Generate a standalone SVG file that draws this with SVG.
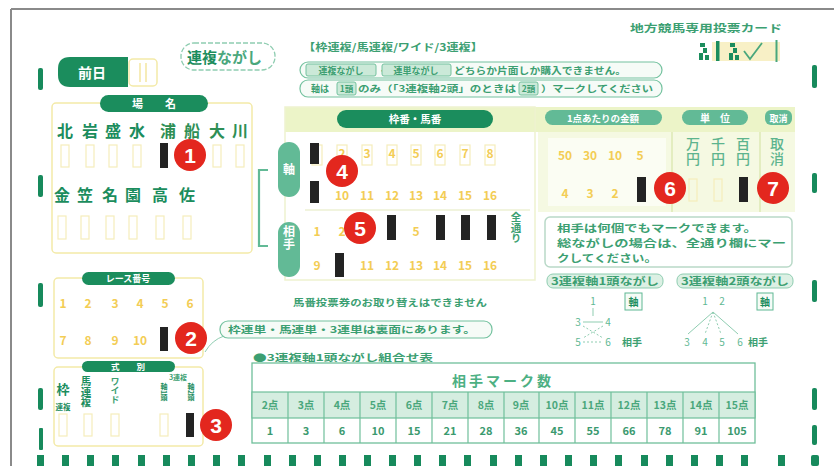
<svg xmlns="http://www.w3.org/2000/svg" width="834" height="466" viewBox="0 0 834 466">
<defs>
<style>
text{font-family:"Noto Sans CJK JP","Noto Sans",sans-serif;}
.vt{writing-mode:vertical-rl;text-anchor:start;}
.tm{fill:#178a5c;}
.mk{fill:#232323;}
.num{font-size:12px;font-weight:700;fill:#f3cd55;text-anchor:middle;}
.box{fill:none;stroke:#f5edbb;stroke-width:1.2;}
.rc{fill:#e3271e;}
.rn{font-family:"Liberation Sans",sans-serif;font-size:21px;font-weight:700;fill:#fff;text-anchor:middle;}
.dp{fill:#1b8d5d;}
.wt{fill:#fff;font-weight:700;text-anchor:middle;}
.tp{fill:#62ba96;}
.g1{fill:#1b8d5d;font-weight:700;}
.g2{fill:#3c9f72;font-weight:700;}
.g3{fill:#5db48e;}
.ol{fill:#f6fbf7;stroke:#74c29f;stroke-width:1.2;}
.ib{fill:#cbe9d8;stroke:#74c29f;stroke-width:1;}
.yb{fill:none;stroke:#f3eaa8;stroke-width:1.5;}
.th{font-size:10.5px;font-weight:700;fill:#4aa77c;text-anchor:middle;}
.tv{font-size:11px;font-weight:700;fill:#3b9a6f;text-anchor:middle;}
.dg{font-size:10px;fill:#5fb893;text-anchor:middle;}
.ln{stroke:#8fcdb1;stroke-width:1;fill:none;}
</style>
</defs>
<rect width="834" height="466" fill="#ffffff"/>
<!-- card border -->
<g id="border">
<line x1="11" y1="9" x2="834" y2="9" stroke="#8a8a8a" stroke-width="2"/>
<line x1="11" y1="9" x2="11" y2="466" stroke="#8a8a8a" stroke-width="2"/>
</g>
<!-- timing marks -->
<g id="timing-marks" class="tm">
<rect x="38" y="68" width="5" height="22" rx="2"/>
<rect x="38" y="175" width="5" height="22" rx="2"/>
<rect x="38" y="283" width="5" height="24" rx="2"/>
<rect x="38" y="388" width="5" height="22" rx="2"/>
<rect x="39" y="428" width="4" height="22" rx="1"/>
<rect x="812" y="65" width="5" height="23" rx="2"/>
<rect x="812" y="173" width="5" height="20" rx="2"/>
<rect x="812" y="280" width="5" height="22" rx="2"/>
<rect x="812" y="388" width="5" height="22" rx="2"/>
<rect x="812" y="425" width="5" height="20" rx="2"/>
<rect x="37" y="455" width="7" height="11"/><rect x="62" y="455" width="7" height="11"/><rect x="87" y="455" width="7" height="11"/><rect x="112" y="455" width="7" height="11"/><rect x="138" y="455" width="7" height="11"/><rect x="163" y="455" width="7" height="11"/><rect x="188" y="455" width="7" height="11"/><rect x="213" y="455" width="7" height="11"/><rect x="238" y="455" width="7" height="11"/><rect x="264" y="455" width="7" height="11"/><rect x="289" y="455" width="7" height="11"/><rect x="314" y="455" width="7" height="11"/><rect x="339" y="455" width="7" height="11"/><rect x="364" y="455" width="7" height="11"/><rect x="389" y="455" width="7" height="11"/><rect x="414" y="455" width="7" height="11"/><rect x="439" y="455" width="7" height="11"/><rect x="464" y="455" width="7" height="11"/><rect x="490" y="455" width="7" height="11"/><rect x="515" y="455" width="7" height="11"/><rect x="540" y="455" width="7" height="11"/><rect x="565" y="455" width="7" height="11"/><rect x="590" y="455" width="7" height="11"/><rect x="615" y="455" width="7" height="11"/><rect x="641" y="455" width="7" height="11"/><rect x="666" y="455" width="7" height="11"/><rect x="691" y="455" width="7" height="11"/><rect x="716" y="455" width="7" height="11"/><rect x="741" y="455" width="7" height="11"/><rect x="778" y="455" width="7" height="11"/><rect x="811" y="455" width="8" height="11" rx="2"/>
</g>
<!-- title -->
<g id="title">
<text x="630" y="32" font-size="10.5" class="g2" textLength="152" lengthAdjust="spacingAndGlyphs">地方競馬専用投票カード</text>
<rect x="712" y="42" width="68" height="19" fill="#f8f0c6"/>
<path d="M700,43h5v4h-5zM703,48h4v5h-4zM699,53h4v7h-4zM705,55h4v5h-4z" fill="#1b8d5d"/>
<rect x="716" y="41" width="3.5" height="20" fill="#1b8d5d"/>
<path d="M730,43h5v4h-5zM733,48h4v5h-4zM729,53h4v7h-4zM735,55h4v5h-4z" fill="#1b8d5d"/>
<path d="M744,51 L750,59 L762,43" fill="none" stroke="#4aa77c" stroke-width="1.8"/>
<rect x="775.5" y="40" width="2" height="22" fill="#4aa77c"/>
</g>
<!-- 前日 -->
<g id="zenjitsu">
<path d="M70,57 H128 V87 H70 Q58,87 58,75 V69 Q58,57 70,57 Z" class="dp"/>
<text x="92" y="78" font-size="14" class="wt">前日</text>
<rect x="129" y="59" width="28" height="27" rx="4" class="yb"/>
<line x1="140" y1="63" x2="140" y2="82" stroke="#f3e6a0" stroke-width="1.5"/>
<line x1="146" y1="63" x2="146" y2="82" stroke="#f3e6a0" stroke-width="1.5"/>
</g>
<!-- 連複ながし -->
<g id="renpuku-nagashi">
<rect x="181" y="43" width="94" height="27" rx="13" fill="none" stroke="#8fcdb1" stroke-width="1.3" stroke-dasharray="5 2"/>
<text x="187" y="63" font-size="15"><tspan class="g1">連複</tspan><tspan fill="#4aa77c" font-weight="700">ながし</tspan></text>
</g>
<!-- instructions -->
<g id="instructions">
<text x="303" y="51" font-size="10" class="g2" textLength="180" lengthAdjust="spacingAndGlyphs">【枠連複/馬連複/ワイド/3連複】</text>
<rect x="300" y="62" width="362" height="16" rx="8" class="ol"/>
<rect x="306" y="64" width="70" height="12" rx="2" class="ib"/>
<text x="341" y="73.5" font-size="9" class="g2" text-anchor="middle">連複ながし</text>
<text x="378" y="73.5" font-size="9" class="g2">・</text>
<rect x="382" y="64" width="69" height="12" rx="2" class="ib"/>
<text x="416" y="73.5" font-size="9" class="g2" text-anchor="middle">連単ながし</text>
<text x="454" y="74" font-size="9.5" class="g2" textLength="172" lengthAdjust="spacingAndGlyphs">どちらか片面しか購入できません。</text>
<rect x="300" y="80" width="362" height="17" rx="8" class="ol"/>
<text x="311" y="92" font-size="9" class="g2">軸は</text>
<rect x="337" y="82" width="19" height="13" rx="2" class="ib"/>
<text x="346.5" y="92" font-size="8.5" class="g2" text-anchor="middle">1頭</text>
<text x="358" y="92" font-size="9" class="g2" textLength="158" lengthAdjust="spacingAndGlyphs">のみ（「3連複軸2頭」のときは</text>
<rect x="519" y="82" width="19" height="13" rx="2" class="ib"/>
<text x="528.5" y="92" font-size="8.5" class="g2" text-anchor="middle">2頭</text>
<text x="541" y="92" font-size="9" class="g2" textLength="112" lengthAdjust="spacingAndGlyphs">）マークしてください</text>
</g>
<!-- 場名 -->
<g id="venue">
<rect x="52" y="103" width="200" height="150" rx="4" class="yb"/>
<rect x="100" y="95" width="108" height="17" rx="8.5" class="dp"/>
<text x="154" y="108" font-size="11" class="wt">場　　名</text>
<g font-size="16" class="g1" text-anchor="middle" font-weight="900">
<text x="65" y="137">北</text><text x="90" y="137">岩</text><text x="113" y="137">盛</text><text x="137" y="137">水</text>
<text x="168" y="137" fill="#2e8f55">浦</text><text x="192" y="137" fill="#2e8f55">船</text><text x="217" y="137" fill="#2e8f55">大</text><text x="240" y="137" fill="#2e8f55">川</text>
<text x="62" y="201">金</text><text x="85" y="201">笠</text><text x="110" y="201">名</text><text x="133" y="201">園</text><text x="160" y="201">高</text><text x="187" y="201">佐</text>
</g>
<g class="box">
<rect x="61" y="145" width="8" height="22"/><rect x="86" y="145" width="8" height="22"/><rect x="109" y="145" width="8" height="22"/><rect x="133" y="145" width="8" height="22"/><rect x="188" y="145" width="8" height="22"/><rect x="213" y="145" width="8" height="22"/><rect x="236" y="145" width="8" height="22"/>
<rect x="58" y="216" width="8" height="23"/><rect x="81" y="216" width="8" height="23"/><rect x="106" y="216" width="8" height="23"/><rect x="129" y="216" width="8" height="23"/><rect x="156" y="216" width="8" height="23"/><rect x="183" y="216" width="8" height="23"/>
</g>
<rect x="160" y="143" width="8" height="25" class="mk"/>
</g>
<!-- race number -->
<g id="race">
<rect x="54" y="278" width="149" height="80" rx="4" class="yb"/>
<rect x="82" y="272" width="93" height="13" rx="6.5" class="dp"/>
<text x="128" y="282" font-size="9" class="wt">レース番号</text>
<g class="num">
<text x="63" y="308">1</text><text x="88" y="308">2</text><text x="115" y="308">3</text><text x="140" y="308">4</text><text x="165" y="308">5</text><text x="190" y="308">6</text>
<text x="63" y="345">7</text><text x="88" y="345">8</text><text x="115" y="345">9</text><text x="140" y="345">10</text>
</g>
<rect x="160" y="327" width="8" height="24" class="mk"/>
</g>
<!-- 式別 -->
<g id="shikibetsu">
<rect x="54" y="367" width="149" height="79" rx="4" class="yb"/>
<rect x="82" y="361" width="93" height="11" rx="5.5" class="dp"/>
<text x="128" y="370" font-size="8.5" class="wt">式　　別</text>
<text x="63" y="394" font-size="13" class="g1" text-anchor="middle" font-weight="900">枠</text>
<text x="63" y="410" font-size="7.5" class="g1" text-anchor="middle">連複</text>
<text x="86" y="376" font-size="10.5" class="g1 vt" font-weight="900">馬連複</text>
<text x="115" y="377" font-size="9" class="g2 vt">ワイド</text>
<text x="178" y="380" font-size="7" class="g2" text-anchor="middle">3連複</text>
<text x="164" y="383" font-size="7" class="g1 vt">軸1頭</text>
<text x="191" y="383" font-size="7" class="g1 vt">軸2頭</text>
<g class="box"><rect x="59" y="414" width="8" height="22"/><rect x="84" y="414" width="8" height="22"/><rect x="111" y="414" width="8" height="22"/><rect x="160" y="414" width="8" height="22"/></g>
<rect x="186" y="413" width="8" height="24" class="mk"/>
</g>
<!-- callouts -->
<g id="callout">
<path d="M224,336 Q212,340 205,352" class="ln" stroke-width="1.3"/>
<rect x="220" y="321" width="272" height="17" rx="8" class="ol"/>
<text x="228" y="333" font-size="9.5" class="g2" textLength="248" lengthAdjust="spacingAndGlyphs">枠連単・馬連単・3連単は裏面にあります。</text>
<text x="293" y="306" font-size="9.5" class="g2" textLength="194" lengthAdjust="spacingAndGlyphs">馬番投票券のお取り替えはできません</text>
<text x="253" y="361" font-size="9.5" class="g2" textLength="180" lengthAdjust="spacingAndGlyphs">●3連複軸1頭ながし組合せ表</text>
</g>
<!-- main grid panel -->
<g id="grid">
<rect x="285" y="107" width="510" height="25" fill="#ecf4c8"/>
<rect x="538" y="132" width="257" height="80" fill="#f5f9e2"/>
<rect x="285" y="107" width="250" height="173" fill="none" stroke="#eef2cf" stroke-width="1.5"/>
<line x1="672" y1="132" x2="672" y2="212" stroke="#e3edc0" stroke-width="2"/>
<line x1="760" y1="132" x2="760" y2="212" stroke="#e3edc0" stroke-width="2"/>
<line x1="305" y1="210" x2="530" y2="210" stroke="#edf0d3" stroke-width="1.5"/>
<rect x="337" y="110" width="156" height="18" rx="9" class="dp"/>
<text x="415" y="123" font-size="10.5" class="wt">枠番・馬番</text>
<rect x="545" y="110" width="117" height="15" rx="7.5" class="tp"/>
<text x="603" y="121.5" font-size="9.5" class="wt">1点あたりの金額</text>
<rect x="682" y="110" width="66" height="15" rx="7.5" class="tp"/>
<text x="715" y="121.5" font-size="10" class="wt">単　位</text>
<rect x="765" y="110" width="27" height="15" rx="6" class="tp"/>
<text x="778.5" y="121.5" font-size="9" class="wt">取消</text>
</g>
<!-- axis / partner -->
<g id="axis">
<path d="M268,170 H259 V246 H268" fill="none" stroke="#62ba96" stroke-width="2.2"/>
<rect x="278" y="142" width="22" height="55" rx="11" class="tp"/>
<text x="289" y="174" font-size="12" class="wt">軸</text>
<rect x="278" y="222" width="22" height="55" rx="11" class="tp"/>
<text x="289" y="238" font-size="12" class="wt vt" letter-spacing="1">相手</text>
<g class="box">
<rect x="312" y="145" width="10" height="20"/><rect x="337" y="145" width="10" height="20"/><rect x="362" y="145" width="10" height="20"/><rect x="387" y="145" width="10" height="20"/><rect x="411" y="145" width="10" height="20"/><rect x="435" y="145" width="10" height="20"/><rect x="460" y="145" width="10" height="20"/><rect x="485" y="145" width="10" height="20"/>
</g>
<g class="num">
<text x="342" y="158">2</text><text x="367" y="158">3</text><text x="392" y="158">4</text><text x="416" y="158">5</text><text x="440" y="158">6</text><text x="465" y="158">7</text><text x="490" y="158">8</text>
<text x="342" y="200">10</text><text x="367" y="200">11</text><text x="392" y="200">12</text><text x="416" y="200">13</text><text x="440" y="200">14</text><text x="465" y="200">15</text><text x="490" y="200">16</text>
<text x="317" y="236">1</text><text x="342" y="236">2</text><text x="416" y="236">5</text>
<text x="317" y="270">9</text><text x="367" y="270">11</text><text x="392" y="270">12</text><text x="416" y="270">13</text><text x="440" y="270">14</text><text x="465" y="270">15</text><text x="490" y="270">16</text>
</g>
<text x="516" y="212" font-size="10.5" class="g2 vt">全通り</text>
<rect x="310" y="143" width="9" height="21" class="mk"/>
<rect x="310" y="181" width="9" height="22" class="mk"/>
<rect x="387" y="215" width="9" height="25" class="mk"/>
<rect x="436" y="215" width="9" height="25" class="mk"/>
<rect x="461" y="215" width="9" height="25" class="mk"/>
<rect x="487" y="215" width="9" height="25" class="mk"/>
<rect x="335" y="253" width="9" height="24" class="mk"/>
</g>
<!-- amount -->
<g id="amount">
<rect x="548" y="138" width="118" height="68" fill="#ffffff" opacity="0.6"/>
<g class="num" font-size="11">
<text x="565" y="160">50</text><text x="590" y="160">30</text><text x="615" y="160">10</text><text x="640" y="160">5</text>
<text x="565" y="198">4</text><text x="590" y="198">3</text><text x="615" y="198">2</text>
</g>
<rect x="637" y="177" width="9" height="25" class="mk"/>
</g>
<!-- unit -->
<g id="unit">
<g font-size="14" class="g3 vt" font-weight="500" letter-spacing="1">
<text x="693" y="137">万円</text>
<text x="718" y="137">千円</text>
<text x="743" y="137">百円</text>
<text x="777" y="137">取消</text>
</g>
<g class="box"><rect x="689" y="179" width="8" height="22"/><rect x="714" y="179" width="8" height="22"/></g>
<rect x="739" y="177" width="9" height="25" class="mk"/>
</g>
<!-- info -->
<g id="info">
<rect x="545" y="217" width="247" height="50" rx="5" fill="#ffffff" stroke="#b9d9c8" stroke-width="1.5"/>
<g font-size="10" class="g2">
<text x="557" y="232" textLength="200" lengthAdjust="spacingAndGlyphs">相手は何個でもマークできます。</text>
<text x="557" y="247" textLength="229" lengthAdjust="spacingAndGlyphs">総ながしの場合は、全通り欄にマー</text>
<text x="557" y="262" textLength="100" lengthAdjust="spacingAndGlyphs">クしてください。</text>
</g>
</g>
<!-- 3連複 diagrams -->
<g id="diagram1">
<rect x="547" y="274" width="116" height="14" rx="6" fill="#dcf0e4" stroke="#8fcdb1"/>
<text x="605" y="285" font-size="10" class="g2" text-anchor="middle" textLength="108" lengthAdjust="spacingAndGlyphs">3連複軸1頭ながし</text>
<text x="593" y="305" class="dg">1</text>
<line x1="593" y1="308" x2="593" y2="316" class="ln"/>
<rect x="625" y="293" width="17" height="17" fill="#f6fbf7" stroke="#5fb893"/>
<text x="633.5" y="305.5" font-size="10" class="g1" text-anchor="middle">軸</text>
<text x="578" y="326" class="dg">3</text><text x="608" y="326" class="dg">4</text>
<text x="578" y="346" class="dg">5</text><text x="608" y="346" class="dg">6</text>
<line x1="583" y1="322" x2="603" y2="322" class="ln"/>
<line x1="583" y1="342" x2="603" y2="342" class="ln" stroke-dasharray="2 2"/>
<line x1="583" y1="326" x2="603" y2="338" class="ln" stroke-dasharray="2 2"/>
<line x1="603" y1="326" x2="583" y2="338" class="ln" stroke-dasharray="2 2"/>
<text x="622" y="346" font-size="10" class="g2">相手</text>
</g>
<g id="diagram2">
<rect x="677" y="274" width="116" height="14" rx="6" fill="#dcf0e4" stroke="#8fcdb1"/>
<text x="735" y="285" font-size="10" class="g2" text-anchor="middle" textLength="108" lengthAdjust="spacingAndGlyphs">3連複軸2頭ながし</text>
<text x="705" y="305" class="dg">1</text><text x="722" y="305" class="dg">2</text>
<rect x="757" y="293" width="16" height="17" fill="#f6fbf7" stroke="#5fb893"/>
<text x="765" y="305.5" font-size="10" class="g1" text-anchor="middle">軸</text>
<line x1="713" y1="312" x2="688" y2="334" class="ln"/>
<line x1="713" y1="312" x2="705" y2="334" class="ln" stroke-dasharray="2 2"/>
<line x1="713" y1="312" x2="721" y2="334" class="ln" stroke-dasharray="2 2"/>
<line x1="713" y1="312" x2="738" y2="334" class="ln"/>
<text x="687" y="346" class="dg">3</text><text x="705" y="346" class="dg">4</text><text x="722" y="346" class="dg">5</text><text x="740" y="346" class="dg">6</text>
<text x="748" y="346" font-size="10" class="g2">相手</text>
</g>
<!-- table -->
<g id="table">
<rect x="252" y="363" width="503" height="80" fill="#ffffff" stroke="#6fbf9a" stroke-width="1.3"/>
<rect x="252" y="392" width="503" height="26" fill="#d5ede0" stroke="#6fbf9a" stroke-width="1.2"/>
<text x="503" y="386" font-size="14" font-weight="700" fill="#4db083" text-anchor="middle" letter-spacing="3">相手マーク数</text>
<g stroke="#6fbf9a" stroke-width="1.2">
<line x1="288" y1="392" x2="288" y2="443"/><line x1="324" y1="392" x2="324" y2="443"/><line x1="360" y1="392" x2="360" y2="443"/><line x1="396" y1="392" x2="396" y2="443"/><line x1="432" y1="392" x2="432" y2="443"/><line x1="468" y1="392" x2="468" y2="443"/><line x1="504" y1="392" x2="504" y2="443"/><line x1="539" y1="392" x2="539" y2="443"/><line x1="575" y1="392" x2="575" y2="443"/><line x1="611" y1="392" x2="611" y2="443"/><line x1="647" y1="392" x2="647" y2="443"/><line x1="683" y1="392" x2="683" y2="443"/><line x1="719" y1="392" x2="719" y2="443"/>
</g>
<g class="th">
<text x="270" y="409">2点</text><text x="306" y="409">3点</text><text x="342" y="409">4点</text><text x="378" y="409">5点</text><text x="414" y="409">6点</text><text x="450" y="409">7点</text><text x="486" y="409">8点</text><text x="521" y="409">9点</text><text x="557" y="409">10点</text><text x="593" y="409">11点</text><text x="629" y="409">12点</text><text x="665" y="409">13点</text><text x="701" y="409">14点</text><text x="737" y="409">15点</text>
</g>
<g class="tv">
<text x="270" y="435">1</text><text x="306" y="435">3</text><text x="342" y="435">6</text><text x="378" y="435">10</text><text x="414" y="435">15</text><text x="450" y="435">21</text><text x="486" y="435">28</text><text x="521" y="435">36</text><text x="557" y="435">45</text><text x="593" y="435">55</text><text x="629" y="435">66</text><text x="665" y="435">78</text><text x="701" y="435">91</text><text x="737" y="435">105</text>
</g>
</g>
<!-- numbered markers -->
<g id="markers">
<circle cx="190" cy="155" r="16" class="rc"/><text x="190" y="162.5" class="rn">1</text>
<circle cx="191" cy="338" r="16" class="rc"/><text x="191" y="345.5" class="rn">2</text>
<circle cx="216" cy="425" r="16" class="rc"/><text x="216" y="432.5" class="rn">3</text>
<circle cx="342" cy="171" r="16" class="rc"/><text x="342" y="178.5" class="rn">4</text>
<circle cx="360" cy="228" r="16" class="rc"/><text x="360" y="235.5" class="rn">5</text>
<circle cx="670" cy="188" r="16" class="rc"/><text x="670" y="195.5" class="rn">6</text>
<circle cx="773" cy="188" r="16" class="rc"/><text x="773" y="195.5" class="rn">7</text>
</g>
</svg>
